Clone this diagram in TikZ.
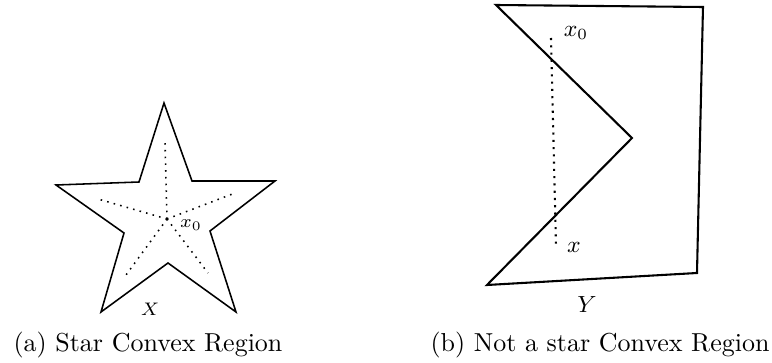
\documentclass[tikz,border=0pt]{standalone}
\usepackage{amsmath}
\usepackage{tikz}
\usetikzlibrary{positioning, calc}
\tikzset{
  outline/.style={semithick, line join=miter, color=black},
  boldoutline/.style={thick, line join=miter, color=black},
  ray/.style={dotted, semithick, color=black},
  caption/.style={font=\normalsize, anchor=center}
}

\begin{document}
\begin{tikzpicture}[x=0.385pt, y=-0.385pt]
  \useasboundingbox (0,0) rectangle (772,363);
  % star convex region
  \draw[outline] (164,103) -- (192,181) -- (275,181) -- (210,231) -- (236,312)
    -- (168,263) -- (101,312) -- (124,233) -- (56,185) -- (139,182) -- cycle;
  \coordinate (c0) at (167,219);
  \draw[ray] (c0) -- (165,141);
  \draw[ray] (c0) -- (98,199);
  \draw[ray] (c0) -- (235,193);
  \draw[ray] (c0) -- (126,275);
  \draw[ray] (c0) -- (208,273);
  \node[font=\scriptsize] (lx0) at (191,225) {$x_0$};
  \node[font=\scriptsize] (lX) at (150,309) {$X$};
  \node[caption] (capa) at (148,345) {(a) Star Convex Region};
  % region that is not star convex
  \draw[boldoutline] (496,5) -- (703,7) -- (697,273) -- (487,285) -- (632,138) -- cycle;
  \coordinate (p0) at (551,38);
  \coordinate (p1) at (556,245);
  \draw[ray, thick] (p0) -- (p1);
  \node[font=\small] (rx0) at (576,33) {$x_0$};
  \node[font=\small] (rx) at (574,247) {$x$};
  \node[font=\small] (rY) at (587,305) {$Y$};
  \node[caption] (capb) at (600,345) {(b) Not a star Convex Region};
\end{tikzpicture}
\end{document}
